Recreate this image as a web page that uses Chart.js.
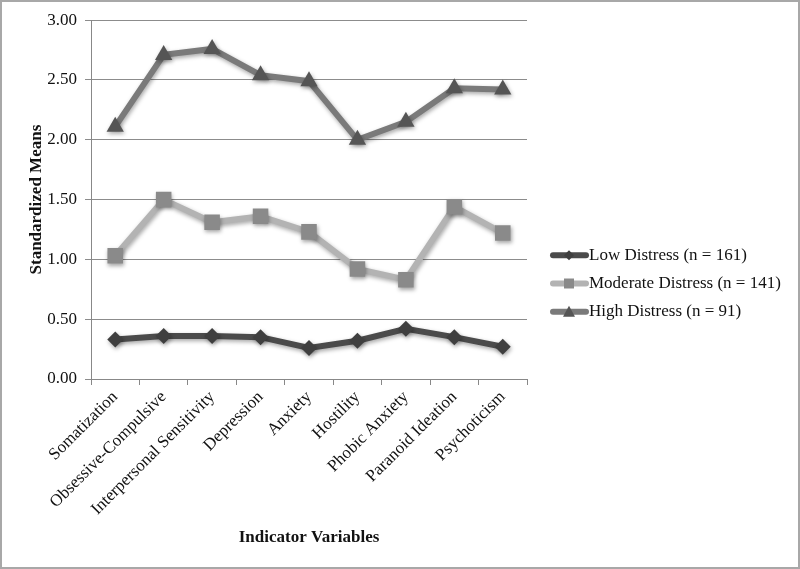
<!DOCTYPE html>
<html>
<head>
<meta charset="utf-8">
<script src="https://cdn.jsdelivr.net/npm/chart.js@4"></script>
<style>
  html, body { margin: 0; padding: 0; background: #fff; }
  #wrap { width: 800px; height: 569px; box-sizing: border-box; border: 2px solid #a8a8a8; }
</style>
</head>
<body>
<div id="wrap"><canvas id="distress-chart"></canvas></div>
<script>
const categories = ['Somatization', 'Obsessive-Compulsive', 'Interpersonal Sensitivity', 'Depression',
    'Anxiety', 'Hostility', 'Phobic Anxiety', 'Paranoid Ideation', 'Psychoticism'];
const lowDistress = [0.33, 0.36, 0.36, 0.35, 0.26, 0.32, 0.42, 0.35, 0.27];
const moderateDistress = [1.03, 1.50, 1.31, 1.36, 1.23, 0.92, 0.83, 1.44, 1.22];
const highDistress = [2.11, 2.71, 2.76, 2.54, 2.49, 2.00, 2.15, 2.43, 2.42];
const seriesNames = ['Low Distress (n = 161)', 'Moderate Distress (n = 141)', 'High Distress (n = 91)'];
const yTicks = [0, 0.5, 1, 1.5, 2, 2.5, 3];

const serif = "'Liberation Serif', 'Times New Roman', serif";

const lineColors = ['#4b4b4b', '#b3b3b3', '#7a7a7a'];
const markColors = ['#3f3f3f', '#8a8a8a', '#555555'];
const markShapes = ['diamond', 'square', 'triangle'];

// legend drawn by hand: thick line with the marker in the middle, then the label
const sideLegend = {
    id: 'sideLegend',
    afterDraw(chart) {
        const ctx = chart.ctx;
        const x0 = chart.chartArea.right + 23;
        const midY = chart.height / 2 - 1;
        ctx.save();
        ctx.font = '17px ' + serif;
        ctx.textBaseline = 'middle';
        chart.data.datasets.forEach((ds, i) => {
            const y = midY + (i - 1) * 28.3;
            ctx.strokeStyle = lineColors[i];
            ctx.lineWidth = 6;
            ctx.lineCap = 'round';
            ctx.beginPath(); ctx.moveTo(x0 + 3, y); ctx.lineTo(x0 + 36, y); ctx.stroke();
            ctx.fillStyle = markColors[i];
            const cx = x0 + 19;
            ctx.beginPath();
            if (markShapes[i] === 'diamond') {
                ctx.moveTo(cx, y - 5); ctx.lineTo(cx + 5, y); ctx.lineTo(cx, y + 5); ctx.lineTo(cx - 5, y);
            } else if (markShapes[i] === 'square') {
                ctx.rect(cx - 5, y - 5, 10, 10);
            } else {
                ctx.moveTo(cx, y - 6); ctx.lineTo(cx + 6, y + 5); ctx.lineTo(cx - 6, y + 5);
            }
            ctx.closePath(); ctx.fill();
            ctx.fillStyle = '#111';
            ctx.fillText(ds.label, x0 + 39, y);
        });
        ctx.restore();
    }
};

const shadowPlugin = {
    id: 'markerShadow',
    beforeDatasetsDraw(chart) {
        const ctx = chart.ctx;
        ctx.save();
        ctx.shadowColor = 'rgba(0,0,0,0.35)';
        ctx.shadowBlur = 4;
        ctx.shadowOffsetX = 1;
        ctx.shadowOffsetY = 2;
    },
    afterDatasetsDraw(chart) {
        chart.ctx.restore();
    }
};

const ctx = document.getElementById('distress-chart').getContext('2d');

new Chart(ctx, {
    type: 'line',
    data: {
        labels: categories,
        datasets: [
            {
                label: seriesNames[0], data: lowDistress,
                borderColor: lineColors[0], backgroundColor: markColors[0],
                borderWidth: 6, pointStyle: 'rectRot', pointRadius: 8,
                pointBackgroundColor: markColors[0], pointBorderWidth: 0
            },
            {
                label: seriesNames[1], data: moderateDistress,
                borderColor: lineColors[1], backgroundColor: markColors[1],
                borderWidth: 6, pointStyle: 'rect', pointRadius: 11,
                pointBackgroundColor: markColors[1], pointBorderWidth: 0
            },
            {
                label: seriesNames[2], data: highDistress,
                borderColor: lineColors[2], backgroundColor: markColors[2],
                borderWidth: 6, pointStyle: 'triangle', pointRadius: 10,
                pointBackgroundColor: markColors[2], pointBorderWidth: 0
            }
        ]
    },
    options: {
        responsive: true,
        maintainAspectRatio: false,
        animation: false,
        layout: { padding: { left: 20, top: 17, right: 271, bottom: 15 } },
        plugins: {
            tooltip: { enabled: false },
            legend: { display: false }
        },
        scales: {
            x: {
                offset: true,
                afterFit(scale) { scale.height = 173; },
                grid: {
                    offset: true, drawOnChartArea: false, drawTicks: true,
                    tickLength: 6, color: '#888'
                },
                border: { display: true, color: '#888', width: 1 },
                ticks: {
                    color: '#111', maxRotation: 45, minRotation: 45, padding: 2,
                    font: { family: serif, size: 17 }
                },
                title: {
                    display: true, text: 'Indicator Variables', color: '#111',
                    padding: { top: 4, bottom: 4 },
                    font: { family: serif, size: 17, weight: 'bold' }
                }
            },
            y: {
                min: 0, max: 3,
                afterFit(scale) { scale.width = 69; },
                afterBuildTicks(scale) { scale.ticks = yTicks.map(v => ({ value: v })); },
                grid: { color: '#8c8c8c', tickLength: 6, lineWidth: 1 },
                border: { display: true, color: '#888', width: 1 },
                ticks: {
                    color: '#111', padding: 8,
                    font: { family: serif, size: 17 },
                    callback: v => v.toFixed(2)
                },
                title: {
                    display: true, text: 'Standardized Means', color: '#111',
                    padding: { top: 4, bottom: 4 },
                    font: { family: serif, size: 17, weight: 'bold' }
                }
            }
        }
    },
    plugins: [shadowPlugin, sideLegend]
});
</script>
</body>
</html>
